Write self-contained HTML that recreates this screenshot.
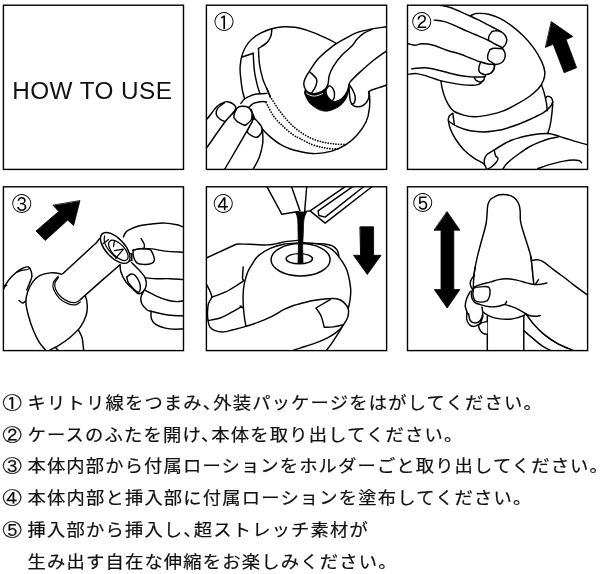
<!DOCTYPE html>
<html lang="ja">
<head>
<meta charset="utf-8">
<title>HOW TO USE</title>
<style>
html,body{margin:0;padding:0;background:#fff;}
body{filter:grayscale(1);width:600px;height:574px;position:relative;overflow:hidden;font-family:"Liberation Sans","Noto Sans CJK JP",sans-serif;color:#111;}
#art{position:absolute;left:0;top:0;width:600px;height:574px;display:block;}
.ln{position:absolute;left:2.5px;white-space:nowrap;font-size:18.3px;line-height:30px;height:30px;font-weight:400;-webkit-text-stroke:0.22px #111;letter-spacing:1.2px;transform:scaleY(0.95);transform-origin:0 16px;color:#111;font-family:"Noto Sans CJK JP","Liberation Sans",sans-serif;}
.ln .n{display:inline-block;position:relative;top:1.2px;width:25px;letter-spacing:0;font-family:"IPAGothic","Noto Sans CJK JP",sans-serif;font-size:19.5px;font-weight:400;}
.ln .c{margin-right:-0.5em;}
#title{position:absolute;left:12.3px;top:75.8px;font-size:24.3px;line-height:30px;white-space:nowrap;color:#111;letter-spacing:0.43px;}
</style>
</head>
<body>
<svg id="art" width="600" height="574" viewBox="0 0 600 574">
<!--P1-->
<clipPath id="cp1"><rect x="206.4" y="5.2" width="180.2" height="164.2"/></clipPath>
<g id="p1" clip-path="url(#cp1)" stroke-linejoin="round" stroke-linecap="round">
<path d="M240.1 66.9C240.4 62.4 241.2 57.5 242.6 53.5C244.0 49.5 245.8 45.8 248.5 42.6C251.2 39.4 254.6 36.6 258.5 34.3C262.4 32.0 267.7 30.1 271.9 28.8C276.1 27.6 279.8 27.1 283.6 26.8C287.5 26.6 291.1 26.8 295.0 27.3C298.9 27.9 302.0 28.5 306.7 30.1C311.4 31.7 318.4 34.5 323.4 36.8C328.4 39.1 332.0 40.4 336.8 43.8C341.6 47.2 347.6 52.0 352.0 57.0C356.4 62.0 360.2 68.2 363.0 74.0C365.8 79.8 367.9 86.3 369.0 92.0C370.1 97.7 369.9 103.4 369.4 108.4C368.9 113.4 368.2 117.3 366.1 121.8C364.0 126.3 360.4 131.3 356.9 135.2C353.4 139.1 349.4 142.5 345.2 145.2C341.0 147.8 336.8 149.7 331.8 151.1C326.8 152.5 320.4 153.5 315.1 153.6C309.8 153.7 304.1 152.3 300.0 151.5C295.9 150.7 293.6 150.2 290.3 149.0C287.0 147.8 283.7 146.4 280.3 144.4C276.9 142.4 273.3 139.6 270.2 136.9C267.1 134.2 264.6 131.7 261.9 128.5C259.2 125.3 256.5 121.9 254.0 118.0C251.5 114.1 248.8 109.2 247.0 105.0C245.2 100.8 244.0 97.1 243.0 93.0C242.0 88.9 241.5 84.6 241.0 80.3C240.5 76.0 239.8 71.4 240.1 66.9Z" fill="#fff" stroke="#000" stroke-width="1.45"/>
<path d="M271.9 28.8C271.8 29.5 271.7 31.6 271.5 33.0C271.3 34.4 271.3 35.4 270.5 37.0C269.7 38.6 268.9 40.7 266.9 42.6C264.9 44.5 259.9 47.5 258.5 48.5" fill="none" stroke="#000" stroke-width="1.45"/>
<path d="M258.5 48.5C258.6 51.0 258.7 58.5 259.4 63.5C260.1 68.5 261.2 73.7 262.7 78.6C264.2 83.5 267.4 89.8 268.6 92.8C269.9 95.8 269.9 96.0 270.2 96.7" fill="none" stroke="#000" stroke-width="1.45"/>
<path d="M241.5 57.2L253.2 53.2" fill="none" stroke="#000" stroke-width="1.45"/>
<path d="M253.2 53.2C253.4 56.0 253.7 65.1 254.3 70.2C254.9 75.3 255.9 79.4 256.9 83.6C257.9 87.8 259.9 93.3 260.5 95.3" fill="none" stroke="#000" stroke-width="1.45"/>
<path d="M240.9 103.4C241.4 102.8 242.7 100.6 244.0 99.5C245.3 98.4 246.6 97.6 248.5 96.7C250.4 95.8 252.1 94.8 255.2 94.2C258.3 93.7 264.9 93.5 266.9 93.4L266.1 101.7C265.1 101.7 262.3 101.4 260.2 101.7C258.1 102.0 255.4 102.4 253.5 103.4C251.6 104.4 249.3 106.9 248.5 107.6L246.0 112.0L242.0 112.0Z" fill="#fff" stroke="none" stroke-width="1.45"/>
<path d="M240.9 103.4C241.4 102.8 242.7 100.6 244.0 99.5C245.3 98.4 246.6 97.6 248.5 96.7C250.4 95.8 252.1 94.8 255.2 94.2C258.3 93.7 264.9 93.5 266.9 93.4" fill="none" stroke="#000" stroke-width="1.45"/>
<path d="M248.5 107.6C249.3 106.9 251.6 104.4 253.5 103.4C255.4 102.4 258.1 102.0 260.2 101.7C262.3 101.4 265.1 101.7 266.1 101.7" fill="none" stroke="#000" stroke-width="1.45"/>
<path d="M266.5 88.0C266.9 88.8 268.0 91.3 268.6 92.8C269.2 94.2 269.9 96.0 270.2 96.7" fill="none" stroke="#000" stroke-width="1.45"/>
<path d="M251.0 109.3L255.2 120.1" fill="none" stroke="#000" stroke-width="1.45"/>
<path d="M270.2 96.7C271.9 99.2 276.9 107.3 280.3 111.8C283.7 116.3 287.0 120.2 290.3 123.5C293.6 126.8 296.4 129.3 300.0 131.8C303.6 134.3 307.8 136.8 311.7 138.5C315.6 140.2 319.5 141.3 323.4 142.2C327.3 143.1 331.6 143.6 335.2 144.0C338.8 144.4 343.5 144.3 345.2 144.4" fill="none" stroke="#000" stroke-width="1.7" stroke-dasharray="0.1 2.55" stroke-linecap="round"/>
<path d="M266.0 102.6C267.3 104.8 270.7 112.0 273.6 116.0C276.5 120.0 280.3 123.6 283.6 126.8C286.9 130.0 290.9 133.2 293.6 135.2C296.3 137.1 297.0 137.0 300.0 138.5C303.0 140.0 307.8 142.9 311.7 144.4C315.6 145.9 319.8 146.9 323.4 147.7C327.0 148.4 330.7 148.8 333.5 148.9C336.3 149.1 339.1 148.7 340.2 148.6" fill="none" stroke="#000" stroke-width="1.7" stroke-dasharray="0.1 2.55" stroke-linecap="round"/>
<path d="M305.3 90.0C303.1 92.4 305.6 95.9 306.7 98.4C307.8 100.9 309.5 103.1 311.7 105.1C313.9 107.0 317.3 109.1 320.1 110.1C322.9 111.1 325.4 111.5 328.5 110.9C331.6 110.4 335.7 108.6 338.5 106.8C341.3 105.0 343.5 102.6 345.2 100.1C346.9 97.6 347.8 94.2 348.5 91.7C349.2 89.2 350.8 86.3 349.4 85.0C348.0 83.7 344.9 84.2 340.0 84.0C335.1 83.8 325.8 83.0 320.0 84.0C314.2 85.0 307.5 87.6 305.3 90.0Z" fill="#000" stroke="#000" stroke-width="0.8"/>
<path d="M394.0 26.0C392.8 26.1 390.4 26.2 386.5 26.8C382.6 27.4 375.2 28.3 370.3 29.3C365.4 30.3 361.1 31.1 356.9 32.6C352.7 34.1 349.4 36.1 345.2 38.5C341.0 40.9 336.3 43.5 331.8 46.8C327.3 50.1 322.0 54.6 318.4 58.5C314.8 62.4 312.3 66.9 310.1 70.2C307.9 73.5 306.2 76.3 305.1 78.6C304.1 80.9 303.8 82.1 303.8 83.8C303.8 85.5 304.3 87.5 305.2 89.0C306.1 90.5 307.5 91.9 309.0 92.7C310.5 93.5 312.0 94.0 314.2 93.8C316.4 93.6 320.1 92.3 322.0 91.4C323.9 90.5 325.0 89.1 325.6 88.6L325.6 88.6C325.7 89.3 325.9 91.7 326.2 93.0C326.5 94.3 326.7 95.4 327.6 96.7C328.5 98.0 330.5 100.2 331.8 101.0C333.1 101.8 333.7 102.1 335.4 101.7C337.1 101.3 339.9 100.4 341.8 98.8C343.7 97.2 345.7 94.5 346.9 92.2C348.1 89.9 348.6 86.2 349.0 85.0L349.0 85.0C349.1 86.4 349.2 90.9 349.4 93.4C349.6 95.9 349.8 98.3 350.2 100.1C350.6 101.9 350.8 103.1 351.9 104.2C353.0 105.3 354.9 106.7 356.9 106.8C358.8 106.9 361.7 106.5 363.6 105.1C365.6 103.7 367.8 100.6 368.6 98.4C369.4 96.2 368.6 92.8 368.6 91.7L368.6 91.7C369.2 91.4 368.9 91.1 371.9 90.0C374.9 88.9 382.8 86.5 386.5 85.3C390.2 84.1 392.8 83.4 394.0 83.0Z" fill="#fff" stroke="#000" stroke-width="1.45"/>
<path d="M306.6 93.2C307.2 93.5 308.7 94.8 310.0 95.3C311.3 95.8 313.0 96.1 314.5 96.1C316.0 96.1 317.6 95.5 319.0 95.1C320.4 94.6 322.0 93.7 322.6 93.4" fill="none" stroke="#fff" stroke-width="0.9"/>
<path d="M371.9 29.3C370.5 30.0 366.1 31.7 363.6 33.4C361.1 35.1 358.8 37.2 356.9 39.3C354.9 41.4 354.4 43.4 351.9 46.0C349.4 48.6 344.9 51.9 341.8 55.2C338.7 58.6 335.6 62.7 333.5 66.1C331.4 69.4 330.2 72.4 329.3 75.3C328.4 78.2 328.7 81.5 328.1 83.6C327.6 85.7 326.4 87.3 326.0 88.0" fill="none" stroke="#000" stroke-width="1.45"/>
<path d="M392.0 47.5C391.1 48.1 389.6 48.9 386.5 51.0C383.4 53.1 378.0 56.7 373.6 60.2C369.2 63.7 364.1 68.3 360.2 71.9C356.3 75.5 352.1 79.6 350.2 81.9C348.3 84.2 349.0 85.3 348.8 86.0" fill="none" stroke="#000" stroke-width="1.45"/>
<path d="M310.1 72.2C311.2 73.4 315.7 76.8 316.6 79.2C317.5 81.6 316.4 84.2 315.6 86.5C314.8 88.8 312.3 91.9 311.6 93.0" fill="none" stroke="#000" stroke-width="1.45"/>
<path d="M328.6 86.0C328.1 86.8 325.9 89.2 325.6 91.0C325.3 92.8 325.9 95.1 326.8 96.7C327.7 98.3 329.7 100.0 330.8 100.4C331.9 100.8 333.0 100.4 333.6 99.2C334.2 98.0 334.6 95.2 334.5 93.4C334.4 91.6 333.6 89.7 332.8 88.4C332.0 87.1 330.3 86.2 329.8 85.7" fill="none" stroke="#000" stroke-width="1.45"/>
<path d="M349.4 85.0C349.9 85.8 351.7 88.0 352.7 90.0C353.7 92.0 354.9 94.6 355.2 96.7C355.5 98.8 354.9 101.3 354.4 102.6C353.8 103.8 352.3 103.9 351.9 104.2" fill="none" stroke="#000" stroke-width="1.45"/>
<path d="M252.7 119.3C255.8 118.1 256.9 121.1 258.5 122.6C260.1 124.1 261.5 126.7 262.2 128.5C262.9 130.3 262.6 131.0 262.7 133.5C262.8 136.0 263.2 139.6 262.7 143.5C262.1 147.4 260.9 152.7 259.4 156.9C257.9 161.1 255.1 165.6 253.5 168.6C251.9 171.6 256.4 173.9 250.0 175.0C243.6 176.1 216.7 182.5 215.0 175.0C213.3 167.5 233.7 139.3 240.0 130.0C246.3 120.7 249.6 120.5 252.7 119.3Z" fill="#fff" stroke="#000" stroke-width="1.45"/>
<path d="M251.8 121.8C251.3 122.7 249.7 125.2 249.0 127.0C248.3 128.8 246.5 131.0 247.7 132.7C248.9 134.4 253.8 137.3 256.0 137.4C258.2 137.5 260.0 135.0 261.0 133.5C262.0 132.0 262.0 129.3 262.2 128.5" fill="none" stroke="#000" stroke-width="1.45"/>
<path d="M203.0 140.0L235.5 110.9L235.5 110.9C235.8 110.4 236.4 108.4 237.6 107.6C238.8 106.8 240.8 106.3 242.6 106.3C244.4 106.3 247.0 106.5 248.5 107.6C250.0 108.6 251.2 110.8 251.8 112.6C252.4 114.4 252.5 116.4 252.2 118.5C251.9 120.6 254.7 116.9 250.2 125.2C245.7 133.6 230.0 160.1 225.1 168.6C220.2 177.1 221.7 174.8 221.0 176.0L221.0 176.0L203.0 176.0Z" fill="#fff" stroke="#000" stroke-width="1.45"/>
<path d="M236.0 109.5C235.7 110.2 234.5 112.7 234.2 114.0C233.8 115.3 233.9 117.0 233.9 117.6L233.9 117.6C234.5 118.3 235.7 120.5 237.6 121.8C239.5 123.1 243.9 124.9 245.2 125.5L245.2 125.5C246.2 124.6 249.8 121.8 251.0 120.1C252.2 118.3 252.0 115.8 252.2 115.0" fill="none" stroke="#000" stroke-width="1.45"/>
<path d="M200.0 124.0C201.1 123.2 203.9 122.2 206.7 119.3C209.5 116.4 213.9 109.6 216.7 106.8C219.5 104.0 221.6 103.4 223.4 102.6C225.2 101.8 225.9 101.4 227.6 101.7C229.3 102.0 232.1 102.9 233.4 104.2C234.7 105.5 236.9 106.4 235.5 109.3C234.1 112.2 229.9 115.4 225.1 121.8C220.3 128.2 210.9 141.8 206.7 147.7C202.5 153.6 201.1 155.4 200.0 157.0Z" fill="#fff" stroke="#000" stroke-width="1.45"/>
<path d="M224.5 102.6C223.3 103.6 219.0 106.5 217.6 108.4C216.2 110.4 215.8 112.5 216.2 114.3C216.6 116.1 218.6 118.1 220.1 119.3C221.6 120.5 224.3 121.1 225.1 121.5" fill="none" stroke="#000" stroke-width="1.45"/>
<text transform="translate(223.7 21.7) scale(1 1.05)" x="0" y="7.80" font-family="IPAGothic, Noto Sans CJK JP, sans-serif" font-size="20" fill="#000" text-anchor="middle" stroke="none">①</text>
</g>
<!--P2-->
<clipPath id="cp2"><rect x="407.5" y="5.2" width="180.1" height="164.2"/></clipPath>
<g id="p2" clip-path="url(#cp2)" stroke-linejoin="round" stroke-linecap="round">
<path d="M452.7 113.4C452.1 113.8 450.0 115.0 449.3 116.0C448.6 117.0 448.4 118.5 448.3 119.3C448.2 120.1 448.2 119.5 448.5 121.0C448.8 122.5 449.1 125.6 450.2 128.5C451.3 131.4 453.0 135.0 455.2 138.5C457.4 142.0 460.4 146.2 463.5 149.4C466.6 152.6 470.2 155.4 473.6 157.8C477.0 160.2 481.4 161.9 483.6 163.6C485.8 165.3 485.6 165.9 487.0 167.8C488.4 169.7 491.2 173.8 492.0 175.0L545.0 175.0C545.5 168.1 546.8 141.8 547.7 133.5C548.6 125.2 549.5 128.6 550.2 125.2C550.9 121.9 551.5 117.3 551.9 113.4C552.3 109.5 552.9 104.3 552.7 101.7C552.6 99.1 551.8 98.5 551.0 97.6C550.2 96.7 548.5 96.2 547.7 96.2C546.9 96.2 546.3 97.5 546.0 97.8Z" fill="#fff" stroke="none" stroke-width="1.45"/>
<path d="M452.7 113.4C452.1 113.8 450.0 115.0 449.3 116.0C448.6 117.0 448.4 118.5 448.3 119.3C448.2 120.1 448.2 119.5 448.5 121.0C448.8 122.5 449.1 125.6 450.2 128.5C451.3 131.4 453.0 135.0 455.2 138.5C457.4 142.0 460.4 146.2 463.5 149.4C466.6 152.6 470.2 155.4 473.6 157.8C477.0 160.2 481.4 161.9 483.6 163.6C485.8 165.3 485.6 165.9 487.0 167.8C488.4 169.7 491.2 173.8 492.0 175.0" fill="none" stroke="#000" stroke-width="1.45"/>
<path d="M547.7 133.5C548.1 132.1 549.5 128.6 550.2 125.2C550.9 121.9 551.5 117.3 551.9 113.4C552.3 109.5 552.9 104.3 552.7 101.7C552.6 99.1 551.8 98.5 551.0 97.6C550.2 96.7 548.5 96.2 547.7 96.2C546.9 96.2 546.3 97.5 546.0 97.8" fill="none" stroke="#000" stroke-width="1.45"/>
<path d="M541.0 83.3C541.5 85.0 543.4 90.1 544.3 93.4C545.2 96.8 546.0 100.5 546.5 103.4C547.0 106.3 547.1 109.7 547.2 110.9" fill="none" stroke="#000" stroke-width="1.45"/>
<path d="M441.0 81.4C440.5 76.2 439.6 68.6 440.3 62.0C441.0 55.4 442.4 48.0 445.0 42.0C447.6 36.0 451.5 30.5 456.0 26.0C460.5 21.5 468.1 17.1 471.9 15.0C475.7 12.9 475.8 13.5 478.6 13.4C481.4 13.3 485.0 13.4 488.6 14.2C492.2 15.0 496.1 16.4 500.0 18.4C503.9 20.3 507.8 23.0 511.7 25.9C515.6 28.8 519.8 32.4 523.4 36.0C527.0 39.6 530.4 43.4 533.5 47.7C536.6 52.0 539.9 57.9 541.8 61.9C543.7 65.9 544.5 68.8 544.8 71.9C545.1 75.0 544.5 77.5 543.5 80.3C542.5 83.1 540.8 86.0 538.5 88.6C536.2 91.2 533.6 93.4 530.0 96.0C526.4 98.6 521.2 101.7 516.8 104.2C512.4 106.7 507.9 109.2 503.4 110.9C498.9 112.6 494.7 113.6 490.0 114.6C485.3 115.6 479.7 116.7 475.3 116.8C470.9 116.9 467.1 116.1 463.5 115.1C459.9 114.1 456.1 112.9 453.5 110.9C450.9 109.0 449.4 106.3 447.7 103.4C446.0 100.5 444.6 97.1 443.5 93.4C442.4 89.7 441.5 86.6 441.0 81.4Z" fill="#fff" stroke="#000" stroke-width="1.45"/>
<path d="M452.7 113.4C452.9 114.3 453.3 117.2 453.6 119.0C453.9 120.8 454.2 123.4 454.3 124.3" fill="none" stroke="#000" stroke-width="1.45"/>
<path d="M448.5 121.0C449.9 121.9 453.3 124.7 456.9 126.3C460.5 127.9 465.8 129.9 470.2 130.8C474.6 131.7 479.3 131.9 483.6 131.9C487.9 131.9 492.7 131.1 496.0 130.6C499.3 130.1 499.7 130.2 503.4 129.2C507.1 128.1 513.7 126.1 518.4 124.3C523.1 122.5 527.6 120.5 531.8 118.5C536.0 116.5 540.4 114.5 543.5 112.6C546.6 110.6 548.7 108.6 550.2 106.8C551.7 105.0 552.3 102.5 552.7 101.7" fill="none" stroke="#000" stroke-width="1.45"/>
<path d="M404.0 2.0L440.1 2.0L440.1 5.2C441.8 5.6 446.6 6.3 450.2 7.5C453.8 8.7 458.6 10.9 461.9 12.3C465.2 13.7 467.1 14.7 470.0 16.0C472.9 17.3 476.3 18.9 479.0 20.2C481.7 21.5 483.7 22.6 486.0 23.8C488.3 25.0 490.7 26.3 493.0 27.5C495.3 28.7 498.1 29.8 500.0 31.0C501.9 32.2 503.4 33.1 504.5 34.5C505.6 35.9 506.6 37.8 506.8 39.5C507.0 41.2 506.2 43.1 505.5 44.5C504.8 45.9 503.0 47.2 502.5 47.8L502.5 48.5C502.9 49.2 504.7 51.2 505.0 53.0C505.3 54.8 505.2 57.3 504.5 59.0C503.8 60.7 502.4 62.1 501.0 63.0C499.6 63.9 497.3 64.3 496.0 64.5C494.7 64.7 493.5 64.2 493.0 64.2L494.5 65.5C494.4 66.1 494.6 67.8 494.0 69.0C493.4 70.2 492.3 72.0 491.0 73.0C489.7 74.0 486.8 74.4 486.0 74.7L484.4 77.3C484.3 77.8 484.6 79.1 483.6 80.3C482.6 81.5 480.8 83.6 478.6 84.4C476.4 85.2 474.1 85.4 470.2 85.3C466.3 85.2 460.2 84.4 455.2 83.6C450.2 82.8 444.8 81.8 440.1 80.6C435.4 79.3 430.7 77.3 426.8 76.1C422.9 74.9 420.0 73.9 416.7 73.6C413.4 73.3 409.3 74.2 407.2 74.4C405.1 74.6 404.5 74.9 404.0 75.0Z" fill="#fff" stroke="#000" stroke-width="1.45"/>
<path d="M434.3 20.1C435.8 20.3 440.6 20.7 443.5 21.4C446.4 22.1 449.2 23.2 452.0 24.3C454.8 25.4 456.2 26.3 460.0 28.0C463.8 29.7 470.2 32.4 475.0 34.5C479.8 36.6 485.2 38.9 488.5 40.5C491.8 42.1 492.9 42.9 495.0 44.0C497.1 45.1 499.8 46.3 501.0 47.0C502.2 47.7 502.2 48.1 502.5 48.3" fill="none" stroke="#000" stroke-width="1.45"/>
<path d="M501.0 31.8C500.2 31.6 497.5 30.7 496.0 30.6C494.5 30.6 492.7 31.4 492.0 31.5L492.0 31.5C491.5 32.2 489.6 34.5 489.0 36.0C488.4 37.5 488.6 39.6 488.5 40.3" fill="none" stroke="#000" stroke-width="1.45"/>
<path d="M502.3 49.0C501.9 48.9 501.4 48.6 500.0 48.5C498.6 48.4 495.7 48.1 494.0 48.3C492.3 48.5 490.7 49.3 490.0 49.5L490.0 49.5C489.6 50.4 488.1 53.3 487.8 55.0C487.5 56.7 487.3 58.2 488.0 59.5C488.7 60.8 490.9 61.8 492.0 62.5C493.1 63.2 494.1 63.8 494.5 64.0" fill="none" stroke="#000" stroke-width="1.45"/>
<path d="M480.5 62.5C480.2 63.2 479.2 65.6 479.0 67.0C478.8 68.4 478.6 69.9 479.0 71.0C479.4 72.1 480.3 72.9 481.5 73.5C482.7 74.1 484.4 74.7 486.0 74.6C487.6 74.5 489.7 73.9 491.0 73.0C492.3 72.1 493.4 70.2 494.0 69.0C494.6 67.8 494.4 66.1 494.5 65.5" fill="none" stroke="#000" stroke-width="1.45"/>
<path d="M404.0 43.5C404.7 43.5 406.5 43.5 408.4 43.8C410.2 44.1 412.9 45.2 415.1 45.2C417.3 45.2 418.6 43.8 421.7 43.8C424.8 43.8 429.2 44.1 433.4 45.2C437.6 46.3 442.4 48.7 446.8 50.2C451.2 51.7 456.1 52.7 460.0 54.0C463.9 55.3 466.7 56.7 470.0 58.0C473.3 59.3 477.0 60.8 480.0 61.8C483.0 62.8 485.8 63.6 488.0 64.0C490.2 64.4 492.2 64.2 493.0 64.3" fill="none" stroke="#000" stroke-width="1.45"/>
<path d="M411.7 68.9C413.9 68.7 420.6 67.5 425.1 67.7C429.6 67.9 434.4 69.3 438.5 70.2C442.6 71.1 446.4 72.3 450.0 73.2C453.6 74.1 456.7 74.9 460.0 75.5C463.3 76.1 466.7 76.5 470.0 76.8C473.3 77.0 477.5 77.0 480.0 77.0C482.5 77.0 484.2 76.7 485.0 76.6" fill="none" stroke="#000" stroke-width="1.45"/>
<path d="M474.4 77.8C474.7 78.2 475.1 79.6 476.1 80.3C477.1 81.0 479.1 81.9 480.3 81.9C481.6 81.9 483.1 80.6 483.6 80.3" fill="none" stroke="#000" stroke-width="1.45"/>
<path d="M486.8 175.0C486.8 174.0 486.9 170.8 486.5 169.0C486.1 167.2 484.8 165.7 484.5 164.0C484.2 162.3 484.1 160.6 484.5 159.0C484.9 157.4 485.4 156.0 487.0 154.5C488.6 153.0 491.3 151.7 494.0 150.0C496.7 148.3 500.0 146.2 503.0 144.5C506.0 142.8 509.2 141.2 512.0 140.0C514.8 138.8 517.0 138.3 520.0 137.5C523.0 136.7 526.6 135.9 530.0 135.3C533.4 134.7 536.8 134.1 540.2 133.8C543.6 133.6 546.3 133.2 550.2 133.8C554.1 134.5 559.1 136.3 563.6 137.7C568.1 139.0 572.3 140.5 577.0 141.9C581.7 143.3 589.5 145.3 592.0 146.0L592 175Z" fill="#fff" stroke="#000" stroke-width="1.45"/>
<path d="M494.3 150.3C494.5 151.2 494.9 154.1 495.5 155.5C496.1 156.9 497.8 157.4 498.0 158.5C498.2 159.6 497.5 160.7 496.5 162.0C495.5 163.3 493.4 165.3 492.0 166.5C490.6 167.7 488.7 168.6 488.0 169.0" fill="none" stroke="#000" stroke-width="1.45"/>
<path d="M502.0 172.0C502.2 171.5 502.3 170.2 503.0 169.0C503.7 167.8 504.5 166.2 506.0 164.5C507.5 162.8 509.7 160.9 512.0 159.0C514.3 157.1 517.0 155.1 520.0 153.0C523.0 150.9 526.6 148.3 530.0 146.5C533.4 144.7 536.8 143.2 540.2 141.9C543.6 140.6 547.1 139.3 550.2 138.5C553.3 137.7 557.2 137.2 558.6 136.9" fill="none" stroke="#000" stroke-width="1.45"/>
<path d="M537.7 168.6C539.8 167.9 545.9 165.7 550.2 164.4C554.5 163.2 559.7 161.8 563.6 161.1C567.5 160.3 571.0 159.9 573.6 159.9C576.2 159.9 578.2 160.3 579.5 160.8C580.8 161.3 581.2 162.5 581.6 162.8" fill="none" stroke="#000" stroke-width="1.45"/>
<path d="M551.5 21.7L572.8 36.5L566.1 39.6L576.6 67.7L564.1 72.7L553.2 44.3L545.7 47.3Z" fill="#000" stroke="#000" stroke-width="0.8"/>
<text transform="translate(421.4 21.7) scale(1 1.05)" x="0" y="7.80" font-family="IPAGothic, Noto Sans CJK JP, sans-serif" font-size="20" fill="#000" text-anchor="middle" stroke="none">②</text>
</g>
<!--P3-->
<clipPath id="cp3"><rect x="3.4" y="186.8" width="180.1" height="163.8"/></clipPath>
<g id="p3" clip-path="url(#cp3)" stroke-linejoin="round" stroke-linecap="round">
<path d="M77.8 328.9C78.5 330.3 80.9 333.8 81.9 337.3C82.9 340.8 83.3 347.2 83.6 349.8C83.9 352.4 83.8 352.5 83.8 353.0" fill="none" stroke="#000" stroke-width="1.45"/>
<path d="M50.2 272.9C46.9 273.2 43.0 273.9 40.1 275.4C37.2 276.9 34.7 279.3 32.6 282.1C30.5 284.9 28.7 288.8 27.6 292.1C26.5 295.4 25.8 298.2 25.9 302.1C26.0 306.0 27.1 310.8 28.4 315.5C29.6 320.2 31.6 326.1 33.4 330.6C35.2 335.1 37.3 339.1 39.3 342.3C41.3 345.5 43.8 347.9 45.2 349.8C46.6 351.7 46.8 353.5 47.7 353.5C48.6 353.5 48.6 351.1 50.4 349.8C52.2 348.5 55.2 347.7 58.5 345.6C61.8 343.5 66.6 340.4 70.2 337.3C73.8 334.2 77.7 330.8 80.3 327.2C82.9 323.6 84.9 319.1 86.1 315.5C87.3 311.9 87.4 308.9 87.3 305.5C87.2 302.1 86.5 298.7 85.3 295.4C84.1 292.1 82.5 288.5 80.0 285.5C77.5 282.5 73.3 279.5 70.0 277.5C66.7 275.5 63.3 274.5 60.0 273.7C56.7 272.9 53.5 272.6 50.2 272.9Z" fill="#fff" stroke="#000" stroke-width="1.45"/>
<path d="M55.2 347.3C55.6 347.7 57.1 349.0 57.7 349.8C58.3 350.6 58.8 351.6 59.0 352.0" fill="none" stroke="#000" stroke-width="1.45"/>
<path d="M58.2 276.2C57.4 277.3 54.0 280.7 53.3 282.9C52.5 285.1 52.7 287.0 53.7 289.6C54.8 292.2 57.1 296.2 59.6 298.6C62.1 301.0 65.8 302.9 68.4 303.9C71.1 304.9 73.5 305.1 75.5 304.8C77.5 304.5 79.5 302.5 80.3 302.0" fill="none" stroke="#000" stroke-width="1.2"/>
<path d="M62.7 273.7L97.8 240.5L115.0 247.0L121.0 264.0L80.3 299.6L75.3 302.6L68.6 301.6L60.8 296.8L55.6 289.2L55.0 282.9L58.5 277.4Z" fill="#fff" stroke="none" stroke-width="1.45"/>
<path d="M58.5 277.4C57.9 278.3 55.5 280.9 55.0 282.9C54.5 284.9 54.6 286.9 55.6 289.2C56.6 291.5 58.6 294.7 60.8 296.8C63.0 298.9 66.2 300.6 68.6 301.6C71.0 302.6 73.4 302.8 75.3 302.6C77.2 302.4 79.0 300.6 79.8 300.2" fill="none" stroke="#000" stroke-width="1.2"/>
<path d="M62.7 273.7L96.6 242.5L99.6 238.5" fill="none" stroke="#000" stroke-width="1.45"/>
<path d="M80.3 299.6L100.0 282.1L120.6 264.2" fill="none" stroke="#000" stroke-width="1.45"/>
<path d="M123.4 236.9L128.5 230.2L138.5 226.0L153.5 223.8L165.3 223.1L177.0 224.8L183.1 226.8L190.0 229.0L190.0 329.0L183.1 328.9L175.3 329.2L165.3 328.1L156.1 324.7L151.5 318.9L151.0 311.3L146.9 309.7L141.8 303.8L141.0 297.1L143.5 291.3L138.5 293.8L133.5 289.6L126.0 282.1L120.9 272.0L120.1 264.5L117.0 250.0Z" fill="#fff" stroke="none" stroke-width="1.45"/>
<path d="M123.4 236.9C123.7 236.3 124.2 234.6 125.0 233.5C125.8 232.4 126.2 231.4 128.5 230.2C130.8 228.9 134.3 227.1 138.5 226.0C142.7 224.9 149.0 224.3 153.5 223.8C158.0 223.3 161.4 222.9 165.3 223.1C169.2 223.3 174.0 224.2 177.0 224.8C180.0 225.4 180.9 226.1 183.1 226.8C185.3 227.5 188.8 228.6 190.0 229.0" fill="none" stroke="#000" stroke-width="1.45"/>
<path d="M190.0 329.0C188.8 329.0 185.5 328.9 183.1 328.9C180.7 328.9 178.3 329.3 175.3 329.2C172.3 329.1 168.5 328.9 165.3 328.1C162.1 327.4 158.4 326.2 156.1 324.7C153.8 323.2 152.3 321.1 151.5 318.9C150.7 316.7 151.1 312.6 151.0 311.3" fill="none" stroke="#000" stroke-width="1.45"/>
<path d="M183.5 315.8C181.8 315.8 176.9 315.8 173.6 315.5C170.3 315.2 167.4 314.9 163.6 314.2C159.8 313.5 153.8 312.1 151.0 311.3C148.2 310.6 148.4 310.9 146.9 309.7C145.4 308.4 142.8 305.9 141.8 303.8C140.8 301.7 140.7 299.2 141.0 297.1C141.3 295.0 143.1 292.3 143.5 291.3" fill="none" stroke="#000" stroke-width="1.45"/>
<path d="M131.8 262.8C132.2 263.2 132.9 263.9 134.3 265.3C135.7 266.7 138.4 269.1 140.2 271.2C142.0 273.3 144.2 275.5 145.2 277.9C146.2 280.3 146.5 283.2 146.2 285.4C145.9 287.6 144.8 289.9 143.5 291.3C142.2 292.7 140.2 294.1 138.5 293.8C136.8 293.5 135.6 291.6 133.5 289.6C131.4 287.7 128.1 285.0 126.0 282.1C123.9 279.2 121.9 274.9 120.9 272.0C119.9 269.1 120.2 265.8 120.1 264.5" fill="none" stroke="#000" stroke-width="1.45"/>
<path d="M126.8 277.0C127.5 276.5 129.6 274.3 131.0 274.0C132.4 273.7 133.8 274.0 135.2 275.4C136.6 276.8 138.4 279.9 139.3 282.1C140.2 284.3 140.5 287.0 140.4 288.8C140.3 290.6 138.8 292.2 138.5 292.9" fill="none" stroke="#000" stroke-width="1.45"/>
<path d="M126.8 277.0C127.0 277.9 127.0 280.1 128.1 282.1C129.2 284.1 131.8 287.0 133.5 288.8C135.2 290.6 137.7 292.2 138.5 292.9" fill="none" stroke="#000" stroke-width="1.45"/>
<path d="M145.6 277.9C147.5 278.0 152.8 278.6 156.9 278.7C161.0 278.8 165.9 278.5 170.3 278.7C174.7 278.9 181.3 279.5 183.5 279.6" fill="none" stroke="#000" stroke-width="1.45"/>
<path d="M145.2 290.4C147.1 291.4 153.0 294.6 156.9 296.3C160.8 298.0 165.2 299.6 168.6 300.5C171.9 301.4 174.5 301.6 177.0 301.6C179.5 301.7 182.4 300.9 183.5 300.8" fill="none" stroke="#000" stroke-width="1.45"/>
<path d="M132.6 250.2C133.9 249.9 137.0 248.8 140.2 248.6C143.4 248.4 147.7 248.5 151.9 248.9C156.1 249.3 160.0 250.6 165.3 251.1C170.6 251.6 180.5 252.0 183.5 252.2" fill="none" stroke="#000" stroke-width="1.45"/>
<path d="M141.0 238.5C141.6 239.5 143.8 242.7 144.3 244.4C144.8 246.1 143.9 248.2 143.8 248.9" fill="none" stroke="#000" stroke-width="1.45"/>
<path d="M133.8 250.2C135.0 249.6 137.4 249.0 140.0 248.9C142.6 248.8 147.3 248.6 149.4 249.4C151.5 250.2 151.9 251.8 152.7 253.6C153.5 255.4 154.7 258.6 154.4 260.3C154.1 262.0 152.8 262.9 151.0 263.6C149.2 264.3 145.9 264.5 143.5 264.4C141.1 264.3 138.4 263.9 136.8 262.8C135.2 261.7 134.4 259.5 133.8 257.8C133.2 256.1 133.1 254.0 133.1 252.7C133.1 251.4 132.7 250.8 133.8 250.2Z" fill="none" stroke="#000" stroke-width="1.45"/>
<path d="M129.3 253.6L131.8 253.6L131.8 260.5L129.3 261.0" fill="none" stroke="#000" stroke-width="1.45"/>
<g transform="rotate(47 115.2 247.9)" stroke="#000" stroke-width="1.45"><ellipse cx="115.2" cy="247.9" rx="19.2" ry="9.4" fill="#fff"/><ellipse cx="119.2" cy="247.3" rx="12.6" ry="6.2" fill="none" stroke-width="1.25"/></g>
<path d="M104.6 236.0C104.5 236.8 104.0 239.2 104.3 241.0C104.6 242.8 105.2 244.6 106.3 246.5C107.4 248.4 109.0 250.6 110.8 252.5C112.5 254.4 115.8 257.2 116.8 258.2" fill="none" stroke="#000" stroke-width="1.25"/>
<path d="M114.5 240.5L113.5 246.5" fill="none" stroke="#000" stroke-width="1.25"/>
<path d="M114.5 250.6L123.0 249.2" fill="none" stroke="#000" stroke-width="1.25"/>
<path d="M123.2 249.4L115.8 258.2" fill="none" stroke="#000" stroke-width="1.25"/>
<path d="M103.2 243.6L108.6 239.6" fill="none" stroke="#000" stroke-width="1.25"/>
<path d="M1.0 293.0C1.4 292.4 2.1 291.7 3.3 289.6C4.5 287.5 6.2 283.3 8.4 280.4C10.6 277.5 14.2 274.1 16.7 272.0C19.2 269.9 21.4 268.7 23.4 267.9C25.3 267.1 27.1 266.6 28.4 267.0C29.6 267.4 30.3 268.7 30.9 270.4C31.5 272.1 32.1 274.8 31.8 277.0C31.5 279.2 30.1 281.5 29.3 283.7C28.5 285.9 27.2 288.9 26.8 290.0" fill="none" stroke="#000" stroke-width="1.45"/>
<path d="M16.7 272.4C17.5 272.1 19.9 270.9 21.7 270.4C23.5 269.9 26.2 269.8 27.6 269.5C29.0 269.2 29.7 268.6 30.1 268.4" fill="none" stroke="#000" stroke-width="1.2"/>
<path d="M19.2 300.5C19.8 300.9 21.6 302.9 22.6 303.0C23.6 303.1 24.7 301.6 25.1 301.3" fill="none" stroke="#000" stroke-width="1.45"/>
<path d="M3.3 285.4L6.7 285.4" fill="none" stroke="#000" stroke-width="1.45"/>
<path d="M79.9 200.9L73.6 225.5L67.7 220.1L45.2 240.5L36.0 231.0L58.7 211.4L53.2 205.4Z" fill="#000" stroke="#000" stroke-width="0.8"/>
<text transform="translate(21.4 203.4) scale(1 1.05)" x="0" y="7.80" font-family="IPAGothic, Noto Sans CJK JP, sans-serif" font-size="20" fill="#000" text-anchor="middle" stroke="none">③</text>
</g>
<!--P4-->
<clipPath id="cp4"><rect x="206.4" y="186.8" width="180.2" height="163.8"/></clipPath>
<g id="p4" clip-path="url(#cp4)" stroke-linejoin="round" stroke-linecap="round">
<path d="M318.0 243.6C318.9 243.7 321.1 243.6 323.4 243.9C325.7 244.2 329.5 244.6 331.8 245.6C334.1 246.6 335.8 248.1 337.0 249.8C338.2 251.5 338.6 254.8 338.9 255.8" fill="none" stroke="#000" stroke-width="1.45"/>
<path d="M203.0 259.5L235.6 244.5L235.6 244.5C236.0 244.4 235.6 244.0 238.0 244.0C240.4 244.0 245.4 244.2 250.2 244.3C255.0 244.5 262.7 245.0 266.9 244.9C271.1 244.8 271.9 244.5 275.3 243.9C278.7 243.3 283.2 242.0 287.0 241.4C290.8 240.8 296.0 240.6 297.8 240.4" fill="none" stroke="#000" stroke-width="1.45"/>
<path d="M283.6 244.2C288.2 243.3 294.0 243.2 297.8 243.0C301.6 242.8 303.0 242.7 306.7 242.9C310.4 243.1 315.9 243.3 320.1 244.4C324.3 245.5 328.5 247.0 331.8 249.4C335.1 251.8 337.7 255.1 340.2 258.6C342.7 262.1 345.2 265.6 346.9 270.3C348.6 275.1 349.9 282.4 350.5 287.1C351.1 291.9 350.7 294.9 350.2 298.8C349.7 302.7 348.8 306.3 347.7 310.5C346.6 314.7 345.3 319.7 343.5 323.9C341.7 328.1 339.6 331.3 336.8 335.6C334.0 339.9 330.4 345.7 326.8 349.8C323.2 353.9 321.1 357.3 315.0 360.0C308.9 362.7 298.3 366.5 290.0 366.0C281.7 365.5 271.7 361.3 265.0 357.0C258.3 352.7 253.2 345.1 250.0 340.0C246.8 334.9 247.0 331.0 246.0 326.4C245.0 321.8 244.3 317.4 243.8 312.2C243.3 307.0 243.0 300.1 243.1 295.4C243.2 290.6 243.5 287.6 244.3 283.7C245.1 279.8 246.2 275.6 247.7 272.0C249.2 268.4 251.7 264.7 253.5 262.0C255.3 259.3 255.7 257.9 258.5 255.6C261.3 253.3 266.0 250.3 270.2 248.4C274.4 246.5 279.0 245.1 283.6 244.2Z" fill="#fff" stroke="#000" stroke-width="1.45"/>
<ellipse cx="300.6" cy="259.8" rx="29.5" ry="16.2" fill="none" stroke="#000" stroke-width="1.45"/>
<ellipse cx="299.3" cy="258.7" rx="13.2" ry="5.1" fill="none" stroke="#000" stroke-width="1.45"/>
<path d="M295.3 211.8L307 211.5C303.8 216 303.4 222 303.4 230L302.6 247L303 263.3L298 263.3L298.4 247L298 230C298 222 298 216 295.3 211.8Z" fill="#000" stroke="#000" stroke-width="0.8"/>
<path d="M266.9 184.0L281.9 214.3L298.0 211.5L305.0 211.4L310.1 210.9L345.2 186.7L345.0 184.0Z" fill="#fff" stroke="none" stroke-width="1.45"/>
<path d="M265.5 184.0L266.9 186.7L281.9 214.3L298.4 211.5" fill="none" stroke="#000" stroke-width="1.45"/>
<path d="M291.6 186.7L300.0 210.9" fill="none" stroke="#000" stroke-width="1.45"/>
<path d="M306.7 186.7L304.7 210.9" fill="none" stroke="#000" stroke-width="1.45"/>
<path d="M304.9 211.4L310.1 210.9" fill="none" stroke="#000" stroke-width="1.45"/>
<path d="M310.1 210.9L325.1 223.1L371.9 186.7L375.0 184.0L349.0 184.0L345.2 186.7Z" fill="#fff" stroke="none" stroke-width="1.45"/>
<path d="M349.0 184.0L345.2 186.7L310.1 210.9L325.1 223.1L371.9 186.7L375.0 184.3" fill="none" stroke="#000" stroke-width="1.45"/>
<path d="M356.5 184.0L352.7 186.7L318.1 210.9L318.8 215.5L325.1 217.1L363.2 187.0L367.0 184.0" fill="none" stroke="#000" stroke-width="1.45"/>
<path d="M206.7 284.6C207.2 285.7 209.1 289.2 210.0 291.3C210.9 293.4 211.7 296.1 212.0 297.1" fill="none" stroke="#000" stroke-width="1.45"/>
<path d="M211.7 297.1C213.9 296.3 220.9 294.1 225.1 292.1C229.3 290.2 233.7 287.3 236.8 285.4C239.9 283.5 242.6 281.5 243.8 280.7" fill="none" stroke="#000" stroke-width="1.45"/>
<path d="M243.1 267.0C243.1 268.0 242.9 271.1 242.8 273.0C242.7 274.9 242.4 277.4 242.6 278.7C242.8 280.0 243.8 280.6 244.0 281.0" fill="none" stroke="#000" stroke-width="1.45"/>
<path d="M212.0 297.1C211.4 298.2 209.2 301.3 208.4 303.8C207.7 306.3 207.6 309.4 207.5 312.2C207.4 315.0 207.6 318.0 208.0 320.5C208.4 323.0 208.8 325.5 210.0 327.2C211.2 328.9 212.9 329.8 215.1 330.6C217.3 331.4 220.3 332.0 223.4 331.9C226.5 331.8 229.6 330.6 233.4 329.7C237.2 328.8 241.8 327.6 246.0 326.4C250.2 325.1 254.2 323.9 258.5 322.2C262.8 320.5 267.7 318.4 271.9 316.3C276.1 314.2 280.0 311.5 283.6 309.7C287.2 307.9 290.9 306.5 293.6 305.5C296.3 304.5 296.7 304.6 300.0 303.8C303.3 303.0 308.9 301.3 313.4 300.5C317.9 299.7 322.9 299.1 326.8 298.8C330.7 298.5 334.0 298.2 336.8 298.8C339.6 299.4 341.6 300.4 343.5 302.1C345.4 303.8 347.5 306.3 348.2 308.8C348.9 311.3 348.5 314.6 347.7 317.2C346.9 319.8 345.0 322.5 343.5 324.7C342.0 326.9 341.0 328.5 338.5 330.6C336.0 332.7 332.4 335.2 328.5 337.3C324.6 339.4 319.9 341.3 315.1 343.1C310.4 344.9 303.6 346.9 300.0 348.1C296.4 349.3 295.8 349.3 293.3 350.3C290.8 351.3 286.4 353.4 285.0 354.0L200 354L200 297Z" fill="#fff" stroke="none" stroke-width="1.45"/>
<path d="M212.0 297.1C211.4 298.2 209.2 301.3 208.4 303.8C207.7 306.3 207.6 309.4 207.5 312.2C207.4 315.0 207.6 318.0 208.0 320.5C208.4 323.0 208.8 325.5 210.0 327.2C211.2 328.9 212.9 329.8 215.1 330.6C217.3 331.4 220.3 332.0 223.4 331.9C226.5 331.8 229.6 330.6 233.4 329.7C237.2 328.8 241.8 327.6 246.0 326.4C250.2 325.1 254.2 323.9 258.5 322.2C262.8 320.5 267.7 318.4 271.9 316.3C276.1 314.2 280.0 311.5 283.6 309.7C287.2 307.9 290.9 306.5 293.6 305.5C296.3 304.5 296.7 304.6 300.0 303.8C303.3 303.0 308.9 301.3 313.4 300.5C317.9 299.7 322.9 299.1 326.8 298.8C330.7 298.5 334.0 298.2 336.8 298.8C339.6 299.4 341.6 300.4 343.5 302.1C345.4 303.8 347.5 306.3 348.2 308.8C348.9 311.3 348.5 314.6 347.7 317.2C346.9 319.8 345.0 322.5 343.5 324.7C342.0 326.9 341.0 328.5 338.5 330.6C336.0 332.7 332.4 335.2 328.5 337.3C324.6 339.4 319.9 341.3 315.1 343.1C310.4 344.9 303.6 346.9 300.0 348.1C296.4 349.3 295.8 349.3 293.3 350.3C290.8 351.3 286.4 353.4 285.0 354.0" fill="none" stroke="#000" stroke-width="1.45"/>
<path d="M208.4 320.5C210.3 320.1 216.2 319.4 220.1 318.0C224.0 316.6 228.2 314.1 231.8 312.2C235.4 310.2 240.1 307.3 241.8 306.3" fill="none" stroke="#000" stroke-width="1.45"/>
<path d="M240.2 306.0L242.8 307.8" fill="none" stroke="#000" stroke-width="1.45"/>
<path d="M330.1 299.6L315.9 308.0L315.9 308.0C316.7 309.2 319.5 312.3 320.9 315.5C322.3 318.7 323.7 325.2 324.3 327.2L324.3 327.2C325.8 327.1 330.3 327.3 333.5 326.9C336.7 326.5 341.8 325.1 343.5 324.7" fill="none" stroke="#000" stroke-width="1.45"/>
<path d="M360.2 226.8L373.6 226.8L373.6 255.3L381.1 255.3L367.3 274.5L353.5 255.3L360.2 255.3Z" fill="#000" stroke="#000" stroke-width="0.8"/>
<text transform="translate(223.1 203.4) scale(1 1.05)" x="0" y="7.80" font-family="IPAGothic, Noto Sans CJK JP, sans-serif" font-size="20" fill="#000" text-anchor="middle" stroke="none">④</text>
</g>
<!--P5-->
<clipPath id="cp5"><rect x="407.5" y="186.8" width="180.1" height="163.8"/></clipPath>
<g id="p5" clip-path="url(#cp5)" stroke-linejoin="round" stroke-linecap="round">
<path d="M487.3 316.0L487.3 353.0" fill="none" stroke="#000" stroke-width="1.45"/>
<path d="M523.8 314.0L523.8 353.0" fill="none" stroke="#000" stroke-width="1.45"/>
<path d="M526.0 313.8C527.2 315.5 530.6 320.5 533.5 323.9C536.4 327.2 539.6 330.7 543.5 333.9C547.4 337.1 552.2 340.5 556.9 343.1C561.6 345.8 568.0 348.2 571.9 349.8C575.8 351.4 578.6 352.5 580.0 353.0" fill="none" stroke="#000" stroke-width="1.45"/>
<path d="M523.8 330.6C525.4 332.0 530.5 336.4 533.5 338.9C536.5 341.4 539.1 343.8 541.8 345.6C544.4 347.4 547.0 348.6 549.4 349.8C551.8 351.0 554.9 352.5 556.0 353.0" fill="none" stroke="#000" stroke-width="1.45"/>
<path d="M500.0 194.8C501.9 194.5 504.5 194.4 506.7 194.8C508.9 195.2 511.4 195.8 513.4 197.2C515.4 198.6 517.3 200.8 518.4 203.0C519.5 205.2 519.8 207.2 520.1 210.1C520.4 212.9 520.1 217.3 520.4 220.1C520.7 222.9 520.9 223.5 521.8 226.8C522.7 230.2 524.6 235.7 526.0 240.2C527.4 244.7 529.1 249.7 530.1 253.6C531.1 257.5 531.4 260.5 531.8 263.6C532.2 266.7 532.3 268.6 532.6 272.0C532.9 275.4 533.7 279.0 533.8 283.7C533.9 288.4 533.7 295.6 533.0 300.0C532.3 304.4 530.8 307.6 529.5 310.0C528.2 312.4 527.0 313.4 525.1 314.7C523.2 315.9 520.9 316.8 518.4 317.5C515.9 318.2 513.2 319.0 510.1 319.2C507.0 319.4 503.4 319.4 500.0 318.9C496.6 318.4 493.0 317.6 490.0 316.3C487.0 315.0 484.3 313.7 482.0 311.0C479.7 308.3 477.4 305.1 476.0 300.0C474.6 294.9 473.9 285.1 473.6 280.4C473.3 275.7 473.8 275.6 474.4 272.0C474.9 268.4 475.9 263.1 476.9 258.6C477.9 254.1 479.2 249.4 480.3 245.2C481.4 241.0 482.6 237.1 483.6 233.5C484.6 229.9 485.5 226.6 486.1 223.5C486.7 220.4 486.7 218.2 487.0 215.1C487.3 212.0 487.2 207.7 487.8 205.1C488.4 202.5 489.1 201.0 490.3 199.6C491.6 198.2 493.7 197.2 495.3 196.4C496.9 195.6 498.1 195.1 500.0 194.8Z" fill="#fff" stroke="#000" stroke-width="1.45"/>
<path d="M474.6 275.5C474.2 275.9 473.1 276.5 472.4 277.6C471.7 278.7 470.6 280.7 470.3 282.1C470.0 283.5 470.3 284.8 470.7 286.0C471.1 287.2 472.3 288.9 472.6 289.5L476.0 289.0L476.0 276.0Z" fill="#fff" stroke="none" stroke-width="1.45"/>
<path d="M474.6 275.5C474.2 275.9 473.1 276.5 472.4 277.6C471.7 278.7 470.6 280.7 470.3 282.1C470.0 283.5 470.3 284.8 470.7 286.0C471.1 287.2 472.3 288.9 472.6 289.5" fill="none" stroke="#000" stroke-width="1.45"/>
<path d="M486.8 321.5C485.9 321.8 482.6 322.3 481.2 323.0C479.8 323.7 478.8 324.2 478.6 325.5C478.5 326.8 479.5 329.2 480.3 330.6C481.1 332.0 482.4 333.0 483.6 333.6C484.8 334.2 486.7 334.2 487.3 334.3L487.3 322.0Z" fill="#fff" stroke="none" stroke-width="1.45"/>
<path d="M486.8 321.5C485.9 321.8 482.6 322.3 481.2 323.0C479.8 323.7 478.8 324.2 478.6 325.5C478.5 326.8 479.5 329.2 480.3 330.6C481.1 332.0 482.4 333.0 483.6 333.6C484.8 334.2 486.7 334.2 487.3 334.3" fill="none" stroke="#000" stroke-width="1.45"/>
<path d="M470.2 291.5C469.6 292.6 467.7 295.7 466.9 298.0C466.1 300.3 465.2 303.1 465.2 305.5C465.2 307.9 466.7 310.0 466.9 312.2C467.1 314.4 466.2 316.8 466.6 318.9C467.0 321.0 468.2 323.4 469.4 324.7C470.6 325.9 472.1 326.4 473.6 326.4C475.1 326.4 477.4 325.5 478.6 324.7C479.9 323.9 480.4 322.8 481.1 321.4C481.8 319.9 482.7 316.9 483.0 316.0L484.0 305.0L476.0 291.0Z" fill="#fff" stroke="none" stroke-width="1.45"/>
<path d="M470.2 291.5C469.6 292.6 467.7 295.7 466.9 298.0C466.1 300.3 465.2 303.1 465.2 305.5C465.2 307.9 466.7 310.0 466.9 312.2C467.1 314.4 466.2 316.8 466.6 318.9C467.0 321.0 468.2 323.4 469.4 324.7C470.6 325.9 472.1 326.4 473.6 326.4C475.1 326.4 477.4 325.5 478.6 324.7C479.9 323.9 480.4 322.8 481.1 321.4C481.8 319.9 482.7 316.9 483.0 316.0" fill="none" stroke="#000" stroke-width="1.45"/>
<path d="M466.9 312.2C467.2 312.6 467.9 313.9 468.5 314.5C469.1 315.1 470.1 315.5 470.4 315.7" fill="none" stroke="#000" stroke-width="1.45"/>
<path d="M468.6 313.8C468.9 314.9 469.1 319.0 470.2 320.5C471.3 322.0 473.6 323.0 475.3 323.0C477.0 323.0 479.1 322.0 480.3 320.5C481.6 319.0 482.5 316.0 482.8 313.8C483.1 311.6 482.0 308.2 481.9 307.1L474.0 305.0Z" fill="#fff" stroke="none" stroke-width="1.45"/>
<path d="M468.6 313.8C468.9 314.9 469.1 319.0 470.2 320.5C471.3 322.0 473.6 323.0 475.3 323.0C477.0 323.0 479.1 322.0 480.3 320.5C481.6 319.0 482.5 316.0 482.8 313.8C483.1 311.6 482.0 308.2 481.9 307.1" fill="none" stroke="#000" stroke-width="1.45"/>
<path d="M475.3 267.0C475.1 267.8 474.7 269.8 474.4 272.0C474.1 274.2 473.8 277.8 473.6 280.4C473.4 283.0 473.4 286.3 473.3 287.5" fill="none" stroke="#000" stroke-width="1.45"/>
<path d="M531.0 260.3L538.5 259.9L543.5 261.9L553.5 269.6L563.6 277.0L573.6 284.8L587.0 294.6L592.0 298.0L592.0 360.0L580.0 353.0L571.9 349.8L556.9 343.1L543.5 333.9L533.5 323.9L526.0 313.8L521.8 311.3L513.4 307.2L505.1 304.6L498.4 306.3L490.0 306.8L480.3 304.6L474.4 302.1L471.6 297.1L471.9 291.3L474.4 287.1L480.3 284.6L490.0 282.1L498.4 279.6L506.7 278.7L516.8 280.1L526.8 282.9L533.8 284.3L532.6 272.0Z" fill="#fff" stroke="none" stroke-width="1.45"/>
<path d="M530.8 256.0C531.0 257.3 531.5 260.9 531.8 263.6C532.1 266.3 532.3 268.6 532.6 272.0C532.9 275.4 533.6 281.8 533.8 283.7" fill="none" stroke="#000" stroke-width="1.45"/>
<path d="M531.3 260.3C532.5 260.2 536.5 259.6 538.5 259.9C540.5 260.2 541.0 260.3 543.5 261.9C546.0 263.5 550.1 267.1 553.5 269.6C556.9 272.1 560.2 274.5 563.6 277.0C567.0 279.5 569.7 281.9 573.6 284.8C577.5 287.7 583.9 292.4 587.0 294.6C590.1 296.8 591.2 297.4 592.0 298.0" fill="none" stroke="#000" stroke-width="1.45"/>
<path d="M526.0 313.8C527.2 315.5 530.6 320.5 533.5 323.9C536.4 327.2 539.6 330.7 543.5 333.9C547.4 337.1 552.2 340.5 556.9 343.1C561.6 345.8 568.0 348.2 571.9 349.8C575.8 351.4 578.6 352.5 580.0 353.0" fill="none" stroke="#000" stroke-width="1.45"/>
<path d="M546.9 282.9C546.0 283.1 543.8 283.8 541.8 284.1C539.8 284.4 537.7 284.8 535.2 284.6C532.7 284.4 529.9 283.6 526.8 282.9C523.7 282.1 520.1 280.8 516.8 280.1C513.4 279.4 509.8 278.8 506.7 278.7C503.6 278.6 501.2 279.0 498.4 279.6C495.6 280.2 493.0 281.3 490.0 282.1C487.0 282.9 482.9 283.8 480.3 284.6C477.7 285.4 475.8 286.0 474.4 287.1C473.0 288.2 472.4 289.6 471.9 291.3C471.4 293.0 471.2 295.3 471.6 297.1C472.0 298.9 472.9 300.9 474.4 302.1C475.8 303.4 477.7 303.8 480.3 304.6C482.9 305.4 487.0 306.5 490.0 306.8C493.0 307.1 495.9 306.7 498.4 306.3C500.9 305.9 502.6 304.5 505.1 304.6C507.6 304.8 510.6 306.1 513.4 307.2C516.2 308.3 519.3 310.0 521.8 311.3C524.3 312.6 526.3 314.4 528.5 315.2C530.7 316.0 533.2 316.2 535.2 316.3C537.2 316.4 539.4 315.6 540.2 315.5" fill="none" stroke="#000" stroke-width="1.45"/>
<path d="M535.2 284.6L538.5 279.6" fill="none" stroke="#000" stroke-width="1.45"/>
<path d="M505.1 304.6L506.7 301.3" fill="none" stroke="#000" stroke-width="1.45"/>
<path d="M474.4 287.9C476.1 287.1 481.2 286.7 483.6 286.6C486.0 286.5 487.5 286.5 488.6 287.1C489.7 287.7 489.9 288.9 490.0 290.4C490.1 291.9 490.0 294.6 489.5 296.3C489.0 298.0 488.5 299.8 487.0 300.8C485.5 301.8 482.2 302.1 480.3 302.1C478.4 302.1 476.5 301.8 475.3 300.8C474.1 299.8 473.5 297.9 473.1 296.3C472.7 294.7 472.9 292.7 473.1 291.3C473.3 289.9 472.6 288.7 474.4 287.9Z" fill="none" stroke="#000" stroke-width="1.45"/>
<path d="M447.2 211.8L459.9 230.2L453.8 230.2L453.8 289.6L459.9 289.6L447.2 308.0L434.3 289.6L441.0 289.6L441.0 230.2L434.3 230.2Z" fill="#000" stroke="#000" stroke-width="0.8"/>
<text transform="translate(422.6 202.6) scale(1 1.05)" x="0" y="7.80" font-family="IPAGothic, Noto Sans CJK JP, sans-serif" font-size="20" fill="#000" text-anchor="middle" stroke="none">⑤</text>
</g>
<!--END-->
<g id="frames" fill="none" stroke="#000" stroke-width="1.4">
<rect x="3.4" y="5.2" width="180.1" height="164.2"/>
<rect x="206.4" y="5.2" width="180.2" height="164.2"/>
<rect x="407.5" y="5.2" width="180.1" height="164.2"/>
<rect x="3.4" y="186.8" width="180.1" height="163.8"/>
<rect x="206.4" y="186.8" width="180.2" height="163.8"/>
<rect x="407.5" y="186.8" width="180.1" height="163.8"/>
</g>
</svg>
<div id="title">HOW TO USE</div>
<div class="ln" style="top:385.6px"><span class="n">①</span>キリトリ線をつまみ<span class="c">、</span>外装パッケージをはがしてください。</div>
<div class="ln" style="top:417.5px"><span class="n">②</span>ケースのふたを開け<span class="c">、</span>本体を取り出してください。</div>
<div class="ln" style="top:449.4px;letter-spacing:1.15px"><span class="n">③</span>本体内部から付属ローションをホルダーごと取り出してください。</div>
<div class="ln" style="top:481.4px"><span class="n">④</span>本体内部と挿入部に付属ローションを塗布してください。</div>
<div class="ln" style="top:513.4px"><span class="n">⑤</span>挿入部から挿入し<span class="c">、</span>超ストレッチ素材が</div>
<div class="ln" style="top:545.3px"><span class="n"></span>生み出す自在な伸縮をお楽しみください。</div>
</body>
</html>
